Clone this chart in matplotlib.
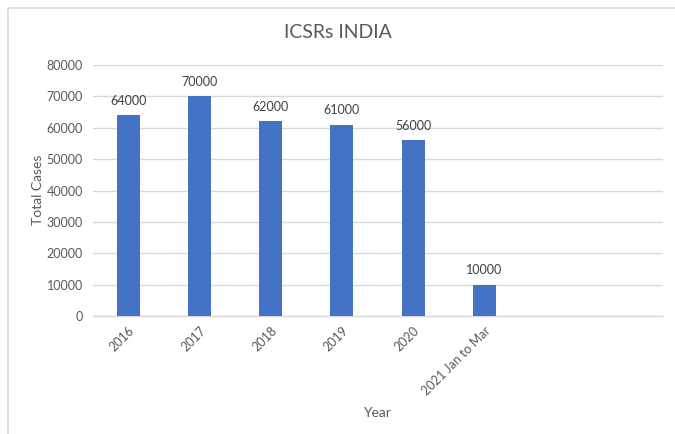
import matplotlib
matplotlib.use("Agg")
import matplotlib.pyplot as plt
from matplotlib.patches import Rectangle

categories = ["2016", "2017", "2018", "2019", "2020", "2021 Jan to Mar", "", ""]
values = [64000, 70000, 62000, 61000, 56000, 10000]
yticks = [0, 10000, 20000, 30000, 40000, 50000, 60000, 70000, 80000]

plt.rcParams['font.family'] = ['Lato', 'DejaVu Sans']
txt = '#595959'
W, H = 675, 434
fig = plt.figure(figsize=(W/100, H/100), dpi=100)
fig.patches.append(Rectangle((8/W, -0.1), 1.2, 1 - 8/H + 0.1, transform=fig.transFigure,
                             fill=False, edgecolor='#d9d9d9', linewidth=1.2))
ax = fig.add_axes([92.5/W, 1 - 316/H, (662.5-92.5)/W, (316-65)/H])

x = list(range(len(categories)))
bars = ax.bar(x[:len(values)], values, width=0.32, color='#4472C4', zorder=3)
for b, v in zip(bars, values):
    ax.annotate(f"{v}", (b.get_x() + b.get_width()/2, v), xytext=(0, 6),
                textcoords='offset points', ha='center', va='bottom', fontsize=9, color='#404040')

ax.set_xlim(-0.5, len(categories) - 0.5)
ax.set_ylim(0, 80000)
ax.set_yticks(yticks)
ax.set_yticklabels([str(t) for t in yticks], fontsize=9, color=txt)
ax.set_xticks(x)
ax.set_xticklabels(categories, rotation=45, ha='right', rotation_mode='anchor', fontsize=9, color=txt)
ax.tick_params(axis='both', length=0)
ax.tick_params(axis='y', pad=7)
ax.tick_params(axis='x', pad=6)
ax.grid(axis='y', color='#d9d9d9', linewidth=1, zorder=0)
for s in ['top', 'right', 'left']:
    ax.spines[s].set_visible(False)
ax.spines['bottom'].set_color('#d9d9d9')
ax.spines['bottom'].set_linewidth(1)

fig.text(338/W, 1 - 33/H, "ICSRs INDIA", ha='center', va='center', fontsize=14, color=txt)
fig.text(377/W, 1 - 413/H, "Year", ha='center', va='center', fontsize=10, color=txt)
fig.text(38/W, 1 - 190/H, "Total Cases", ha='center', va='center', fontsize=10, color=txt, rotation=90)

fig.savefig("out.png", dpi=100)
